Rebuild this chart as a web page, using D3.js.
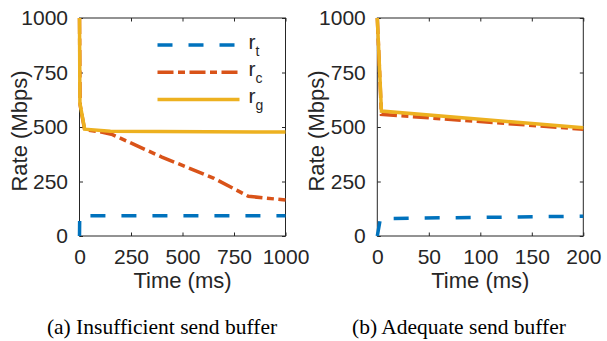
<!DOCTYPE html>
<html>
<head>
<meta charset="utf-8">
<script src="https://cdn.jsdelivr.net/npm/d3@7"></script>
<style>
    body { margin: 0; background: #fff; }
    svg { display: block; }
    .tick text { font-family: "Liberation Sans", Arial, sans-serif; font-size: 21px; fill: #262626; }
    .label { font-family: "Liberation Sans", Arial, sans-serif; font-size: 22px; fill: #262626; }
    .legend text { font-size: 21px; }
    .caption { font-family: "Liberation Serif", "Times New Roman", serif; font-size: 21.5px; fill: #000; }
</style>
</head>
<body>
<div id="chart"></div>
<script>
// panel (a): insufficient send buffer, time in ms, rate in Mbps
var timeA = [0, 1, 1000],
    rtA = [0, 93, 93];
var timeCA = [0, 3, 25, 100, 160, 400, 650, 820, 1000],
    rcA = [1000, 600, 487, 478, 465, 362, 266, 182, 165];
var timeGA = [0, 2, 25, 150, 1000],
    rgA = [1000, 610, 490, 480, 477];

// panel (b): adequate send buffer
var timeB = [0, 3, 200],
    rtB = [0, 80, 91];
var timeCB = [0, 4, 200],
    rcB = [1000, 558, 490];
var timeGB = [0, 4, 200],
    rgB = [1000, 573, 497];

var rateTicks = [0, 250, 500, 750, 1000],
    timeTicksA = [0, 250, 500, 750, 1000],
    timeTicksB = [0, 50, 100, 150, 200];

var seriesNames = ['t', 'c', 'g'],
    colors = ['#0072BD', '#D95319', '#EDB120'],
    dashes = ['15,16', '16,4.5,7,4.5', null];

var svg = d3.select('#chart').append('svg')
    .attr('width', 607)
    .attr('height', 341);

function zip(xs, ys) {
    return xs.map(function(x, i) { return [x, ys[i]]; });
}

function panel(left, maxTime, timeTicks, series, caption, captionX, showLegend) {
    var width = 206,
        height = 218,
        top = 18,
        tick = 3.5,
        fmt = d3.format('d'),
        x = d3.scaleLinear().domain([0, maxTime]).range([0, width]),
        y = d3.scaleLinear().domain([0, 1000]).range([height, 0]),
        g = svg.append('g').attr('transform', 'translate(' + left + ',' + top + ')'),
        line = d3.line()
            .x(function(d) { return x(d[0]); })
            .y(function(d) { return y(d[1]); });

    g.append('g')
        .attr('transform', 'translate(0,' + height + ')')
        .call(d3.axisBottom(x).tickValues(timeTicks).tickSize(-tick).tickPadding(13).tickFormat(fmt));
    g.append('g')
        .call(d3.axisTop(x).tickValues(timeTicks).tickSize(-tick).tickFormat(''));
    g.append('g')
        .call(d3.axisLeft(y).tickValues(rateTicks).tickSize(-tick).tickPadding(11.5).tickFormat(fmt));
    g.append('g')
        .attr('transform', 'translate(' + width + ',0)')
        .call(d3.axisRight(y).tickValues(rateTicks).tickSize(-tick).tickFormat(''));

    g.selectAll('.domain').remove();
    g.selectAll('.tick line').attr('stroke', '#262626');

    g.append('rect')
        .attr('width', width)
        .attr('height', height)
        .attr('fill', 'none')
        .attr('stroke', '#262626')
        .attr('stroke-width', 1);

    g.selectAll('.series')
        .data(series)
        .enter()
        .append('path')
        .attr('class', 'series')
        .attr('d', function(d) { return line(d); })
        .attr('fill', 'none')
        .attr('stroke', function(d, i) { return colors[i]; })
        .attr('stroke-width', 3.5)
        .attr('stroke-dasharray', function(d, i) { return dashes[i]; });

    g.append('text')
        .attr('class', 'label')
        .attr('x', width / 2)
        .attr('y', height + 52)
        .attr('text-anchor', 'middle')
        .text('Time (ms)');

    g.append('text')
        .attr('class', 'label')
        .attr('transform', 'translate(-53,' + (height / 2 + 4) + ') rotate(-90)')
        .attr('text-anchor', 'middle')
        .text('Rate (Mbps)');

    svg.append('text')
        .attr('class', 'caption')
        .attr('x', captionX)
        .attr('y', 334)
        .attr('text-anchor', 'middle')
        .text(caption);

    if (showLegend) {
        var legend = g.selectAll('.legend')
            .data(seriesNames)
            .enter()
            .append('g')
            .attr('class', 'legend')
            .attr('transform', function(d, i) { return 'translate(78,' + (27 + i * 27.2) + ')'; });

        legend.append('line')
            .attr('x1', 0)
            .attr('x2', 82)
            .attr('stroke', function(d, i) { return colors[i]; })
            .attr('stroke-width', 3.5)
            .attr('stroke-dasharray', function(d, i) { return dashes[i]; });

        var label = legend.append('text')
            .attr('class', 'label')
            .attr('x', 91)
            .attr('y', 4);
        label.append('tspan').text('r');
        label.append('tspan')
            .attr('dy', 7)
            .style('font-size', '14px')
            .text(function(d) { return d; });
    }
}

panel(79.5, 1000, timeTicksA, [zip(timeA, rtA), zip(timeCA, rcA), zip(timeGA, rgA)],
    '(a) Insufficient send buffer', 162, true);
panel(377.3, 200, timeTicksB, [zip(timeB, rtB), zip(timeCB, rcB), zip(timeGB, rgB)],
    '(b) Adequate send buffer', 459, false);
</script>
</body>
</html>
